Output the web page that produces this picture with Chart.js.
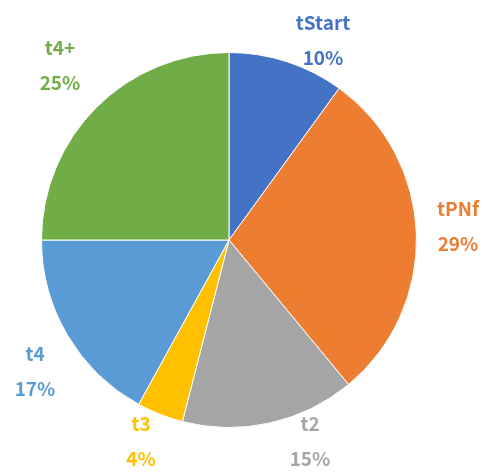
<!DOCTYPE html>
<html>
<head>
<meta charset="utf-8">
<script src="https://cdn.jsdelivr.net/npm/chart.js@4"></script>
<style>
  body { margin: 0; background: #fff; }
  #wrap { width: 490px; height: 474px; }
</style>
</head>
<body>
<div id="wrap"><canvas id="pieChart"></canvas></div>
<script>
const categories = ['tStart', 'tPNf', 't2', 't3', 't4', 't4+'];
const percents = [10, 29, 15, 4, 17, 25];
const colors = ['#4472C4', '#ED7D31', '#A5A5A5', '#FFC000', '#5B9BD5', '#70AD47'];

// label centre positions (two lines: name / percent)
const labelSpots = [[323, 40], [458, 226], [310, 441], [141, 441], [35, 371], [60, 65]];

const outsideLabels = {
    id: 'outsideLabels',
    afterDraw(chart) {
        const ctx = chart.ctx;
        ctx.save();
        ctx.font = 'bold 19px "Noto Sans CJK SC", "DejaVu Sans", sans-serif';
        ctx.textAlign = 'center';
        ctx.textBaseline = 'middle';
        categories.forEach((name, i) => {
            const [x, y] = labelSpots[i];
            ctx.fillStyle = colors[i];
            ctx.fillText(name, x, y - 17);
            ctx.fillText(percents[i] + '%', x, y + 18);
        });
        ctx.restore();
    }
};

new Chart(document.getElementById('pieChart'), {
    type: 'pie',
    data: {
        labels: categories,
        datasets: [{
            data: percents,
            backgroundColor: colors,
            borderColor: '#ffffff',
            borderWidth: 1
        }]
    },
    options: {
        responsive: true,
        maintainAspectRatio: false,
        animation: false,
        layout: { padding: { left: 41, right: 73, top: 52, bottom: 46 } },
        plugins: {
            legend: { display: false },
            tooltip: { enabled: false }
        }
    },
    plugins: [outsideLabels]
});
</script>
</body>
</html>
